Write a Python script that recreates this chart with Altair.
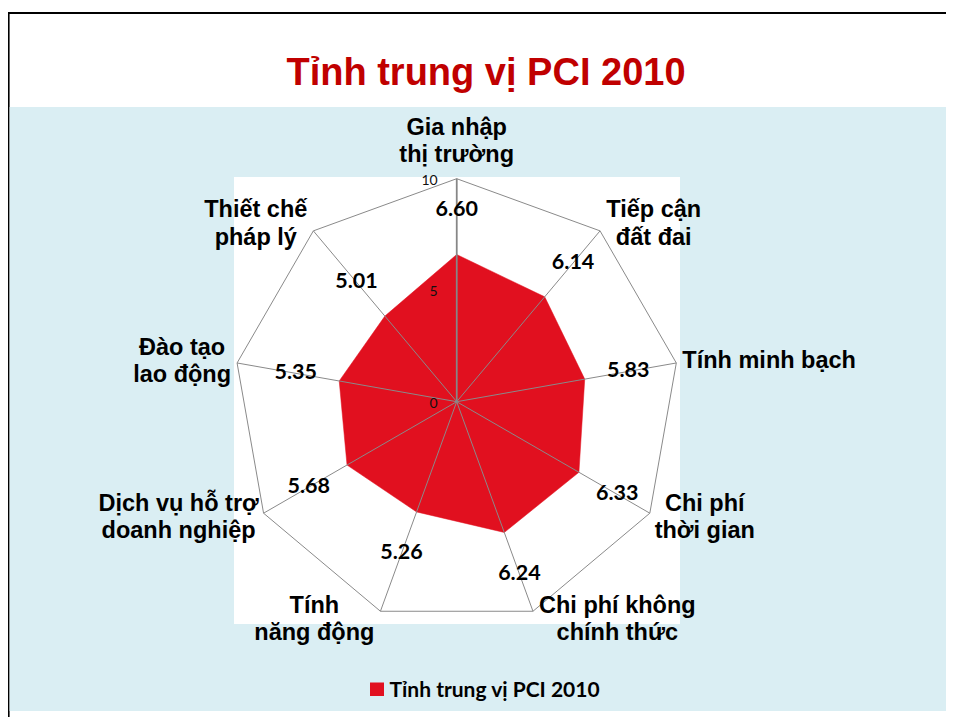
import math
import unicodedata
import altair as alt
import pandas as pd

# ---------------- data ----------------
categories = [
    "Gia nhập\nthị trường",
    "Tiếp cận\nđất đai",
    "Tính minh bạch",
    "Chi phí\nthời gian",
    "Chi phí không\nchính thức",
    "Tính\nnăng động",
    "Dịch vụ hỗ trợ\ndoanh nghiệp",
    "Đào tạo\nlao động",
    "Thiết chế\npháp lý",
]
values = [6.60, 6.14, 5.83, 6.33, 6.24, 5.26, 5.68, 5.35, 5.01]
series_name = "Tỉnh trung vị PCI 2010"
chart_title = "Tỉnh trung vị PCI 2010"
axis_max = 10
axis_ticks = [0, 5, 10]

# ---------------- geometry / style ----------------
W, H = 938, 709           # whole drawing (page minus 8px margin)
CX, CY = 448.7, 393.7     # radar centre in pixels
K = 22.3                  # pixels per value unit
RED = "#e1101f"
GRID = "#8a8a8a"
BLUE = "#daeef3"
CAT_FONT = "Liberation Sans"
CAT_SIZE = 23.5
LINE_H = 27.5
NUM_FONT = "Lato"

xs = alt.Scale(domain=[-CX / K, (W - CX) / K], nice=False, zero=False)
ys = alt.Scale(domain=[-(H - CY) / K, CY / K], nice=False, zero=False)

# rough Arial-bold advance widths for label block sizing
_AW = {'a': 556, 'b': 611, 'c': 556, 'd': 611, 'e': 556, 'f': 333, 'g': 611, 'h': 611,
       'i': 278, 'j': 278, 'k': 556, 'l': 278, 'm': 889, 'n': 611, 'o': 611, 'p': 611,
       'q': 611, 'r': 389, 's': 556, 't': 333, 'u': 611, 'v': 556, 'w': 778, 'x': 556,
       'y': 556, 'z': 500, ' ': 278, 'C': 722, 'D': 722, 'G': 778, 'T': 611}


def text_w(s, size):
    base = unicodedata.normalize("NFD", s).replace("đ", "d").replace("Đ", "D")
    tot = 0
    for ch in base:
        if unicodedata.combining(ch):
            continue
        tot += _AW.get(ch, 600)
    return tot * size / 1000.0


n = len(categories)
rows = []
for i, (c, v) in enumerate(zip(categories, values)):
    a = i * 2 * math.pi / n
    s, co = math.sin(a), math.cos(a)
    lines = c.split("\n")
    bw = max(text_w(t, CAT_SIZE) for t in lines)
    side = 1 if s > 0.2 else (-1 if s < -0.2 else 0)
    lx = axis_max * s + side * (6 + bw / 2) / K
    # block centre, then move up so that the first line sits where it should
    ly = axis_max * co + ((37 if side == 0 else 9 * co) / K)
    ly += (len(lines) - 1) * LINE_H / 2 / K
    rows.append(dict(idx=i, cat=c, value=v, angle=a, lx=lx, ly=ly,
                     label=f"{v:.2f}", zero=0.0))
df = pd.DataFrame(rows)
ticks_df = pd.DataFrame({"t": axis_ticks, "zero": [0.0] * len(axis_ticks),
                         "lab": [str(t) for t in axis_ticks]})
one = pd.DataFrame({"a": [0]})

base = alt.Chart(df).transform_calculate(
    px="datum.value*sin(datum.angle)",
    py="datum.value*cos(datum.angle)",
    ox=f"{axis_max}*sin(datum.angle)",
    oy=f"{axis_max}*cos(datum.angle)",
    tx="(datum.value+1.98)*sin(datum.angle)",
    ty="(datum.value+1.98)*cos(datum.angle)",
)


def rect(x1, x2, y1, y2, color):
    return alt.Chart(one).mark_rect(color=color).encode(
        x=alt.value(x1), x2=alt.value(x2), y=alt.value(y1), y2=alt.value(y2))


top_border = rect(0, W, 4, 6, "black")
left_border = rect(0, 1.6, 4, H, "black")
blue_bg = rect(1.6, W, 99, 703, BLUE)
white_bg = rect(226, 672, 169, 616, "white")

title = alt.Chart(one).mark_text(
    text=chart_title, font=CAT_FONT, fontSize=38, fontWeight="bold",
    color="#c00000", align="center", baseline="alphabetic"
).encode(x=alt.value(478), y=alt.value(77))

poly = base.mark_line(interpolate="linear-closed", fill=RED, stroke=RED,
                      strokeWidth=0.5).encode(
    x=alt.X("px:Q", scale=xs, axis=None),
    y=alt.Y("py:Q", scale=ys, axis=None),
    order="idx:O",
)

spokes = base.mark_rule(color=GRID, strokeWidth=1).encode(
    x=alt.X("zero:Q", scale=xs, axis=None),
    y=alt.Y("zero:Q", scale=ys, axis=None),
    x2="ox:Q", y2="oy:Q",
)

vaxis = alt.Chart(ticks_df).mark_rule(color="#868686", strokeWidth=1.7).encode(
    x=alt.X("zero:Q", scale=xs, axis=None),
    y=alt.Y("min(t):Q", scale=ys, axis=None),
    y2="max(t):Q",
)

outer = base.mark_line(interpolate="linear-closed", color=GRID,
                       strokeWidth=1).encode(
    x=alt.X("ox:Q", scale=xs, axis=None),
    y=alt.Y("oy:Q", scale=ys, axis=None),
    order="idx:O",
)

tick_labels = alt.Chart(ticks_df).mark_text(
    font=NUM_FONT, fontSize=14, color="#111", align="right",
    baseline="middle", dx=-19, dy=2
).encode(
    x=alt.X("zero:Q", scale=xs, axis=None),
    y=alt.Y("t:Q", scale=ys, axis=None),
    text="lab:N",
)

value_labels = base.mark_text(
    font=NUM_FONT, fontSize=21.5, fontWeight="bold", color="black",
    align="center", baseline="middle"
).encode(
    x=alt.X("tx:Q", scale=xs, axis=None),
    y=alt.Y("ty:Q", scale=ys, axis=None),
    text="label:N",
)

cat_labels = base.mark_text(
    font=CAT_FONT, fontSize=CAT_SIZE, fontWeight="bold", color="black",
    align="center", baseline="middle", lineBreak="\n", lineHeight=LINE_H
).encode(
    x=alt.X("lx:Q", scale=xs, axis=None),
    y=alt.Y("ly:Q", scale=ys, axis=None),
    text="cat:N",
)

leg_sq = rect(362, 376, 674.5, 688, RED)
leg_txt = alt.Chart(one).mark_text(
    text=series_name, font=NUM_FONT, fontSize=21, fontWeight="bold",
    color="black", align="left", baseline="alphabetic"
).encode(x=alt.value(381.5), y=alt.value(688.5))

chart = alt.layer(
    top_border, left_border, blue_bg, white_bg, title,
    poly, spokes, vaxis, outer, tick_labels, value_labels, cat_labels,
    leg_sq, leg_txt,
).properties(
    width=W, height=H, autosize=alt.AutoSizeParams(type="none"), padding=0,
    background="white",
).configure_view(stroke=None)

chart.save("out.html", embed_options={"renderer": "svg", "actions": False})
